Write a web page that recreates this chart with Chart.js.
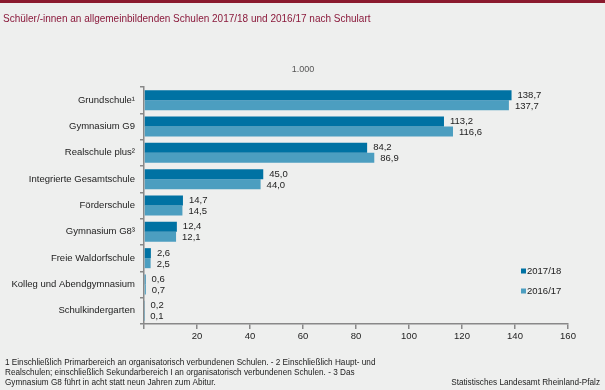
<!DOCTYPE html>
<html><head><meta charset="utf-8">
<script src="https://cdn.jsdelivr.net/npm/chart.js@4/dist/chart.umd.min.js"></script>
<style>
html,body{margin:0;padding:0;background:#eeefee;}
#wrap{position:relative;width:605px;height:390px;}
canvas{display:block;}
</style></head>
<body><div id="wrap"><canvas id="c" width="605" height="390"></canvas></div>
<script>
const categories = ["Grundschule\u00b9","Gymnasium G9","Realschule plus\u00b2","Integrierte Gesamtschule","F\u00f6rderschule","Gymnasium G8\u00b3","Freie Waldorfschule","Kolleg und Abendgymnasium","Schulkindergarten"];
const series2017 = [138.7,113.2,84.2,45.0,14.7,12.4,2.6,0.6,0.2];
const series2016 = [137.7,116.6,86.9,44.0,14.5,12.1,2.5,0.7,0.1];
const seriesNames = ["2017/18","2016/17"];
const xTicks = [0,20,40,60,80,100,120,140,160];
const titleText = "Sch\u00fcler/-innen an allgemeinbildenden Schulen 2017/18 und 2016/17 nach Schulart";
const unitText = "1.000";
const footLines = ["1 Einschlie\u00dflich Primarbereich an organisatorisch verbundenen Schulen. - 2 Einschlie\u00dflich Haupt- und","Realschulen; einschlie\u00dflich Sekundarbereich I an organisatorisch verbundenen Schulen. - 3 Das","Gymnasium G8 f\u00fchrt in acht statt neun Jahren zum Abitur."];
const sourceText = "Statistisches Landesamt Rheinland-Pfalz";

const colors = ["#0072a3","#4c9ec0"];
const FONT = "'Liberation Sans', Arial, sans-serif";
const fmt = v => v.toFixed(1).replace('.', ',');

const decor = {
  id:'decor',
  beforeDraw(chart){
    const ctx = chart.ctx;
    ctx.save();
    ctx.fillStyle = '#eeefee';
    ctx.fillRect(0,0,chart.width,chart.height);
    ctx.fillStyle = '#8b1a2e';
    ctx.fillRect(0,0,chart.width,3);
    ctx.restore();
  },
  afterDatasetsDraw(chart){
    const ctx = chart.ctx;
    ctx.save();
    ctx.font = '9.5px ' + FONT;
    ctx.fillStyle = '#222';
    ctx.textBaseline = 'middle';
    ctx.textAlign = 'left';
    chart.data.datasets.forEach((ds, di) => {
      const meta = chart.getDatasetMeta(di);
      meta.data.forEach((bar, i) => {
        ctx.fillText(fmt(ds.data[i]), bar.x + 6, bar.y + (di===0?0:1));
      });
    });
    // title
    ctx.font = '10px ' + FONT;
    ctx.fillStyle = '#8b1a3c';
    ctx.fillText(titleText, 3, 19);
    // unit
    ctx.font = '9px ' + FONT;
    ctx.fillStyle = '#555';
    ctx.textAlign = 'center';
    ctx.fillText(unitText, 303, 70);
    // legend
    ctx.textAlign = 'left';
    ctx.font = '9.5px ' + FONT;
    const ly = [271, 291];
    seriesNames.forEach((n, k) => {
      ctx.fillStyle = colors[k];
      ctx.fillRect(521, ly[k]-2.5, 5, 5);
      ctx.fillStyle = '#222';
      ctx.fillText(n, 527, ly[k]);
    });
    // footnotes
    ctx.font = '8.2px ' + FONT;
    ctx.fillStyle = '#222';
    footLines.forEach((l, k) => ctx.fillText(l, 5, 363 + k*10));
    ctx.textAlign = 'right';
    ctx.fillText(sourceText, 600, 383);
    ctx.restore();
  }
};

new Chart(document.getElementById('c'), {
  type: 'bar',
  data: {
    labels: categories,
    datasets: [
      {label: seriesNames[0], data: series2017, backgroundColor: colors[0], borderWidth: 0, barPercentage: 1.0, categoryPercentage: 0.76},
      {label: seriesNames[1], data: series2016, backgroundColor: colors[1], borderWidth: 0, barPercentage: 1.0, categoryPercentage: 0.76}
    ]
  },
  options: {
    indexAxis: 'y',
    responsive: false,
    animation: false,
    layout: {padding: {top: 87, right: 37, left: 0, bottom: 0}},
    plugins: {legend: {display: false}, tooltip: {enabled: false}, title: {display: false}},
    scales: {
      x: {
        min: 0, max: 160,
        afterBuildTicks(scale){ scale.ticks = xTicks.map(v => ({value: v})); },
        afterFit(scale){ scale.height = 66; },
        ticks: {font: {size: 9.5, family: FONT}, color: '#222', padding: 2, maxRotation: 0,
          callback: v => v === 0 ? '' : String(v)},
        grid: {drawOnChartArea: false, drawTicks: true, tickLength: 5, color: '#888', lineWidth: 1.5},
        border: {color: '#888', width: 1.5}
      },
      y: {
        afterFit(scale){ scale.width = 144; },
        ticks: {font: {size: 9.5, family: FONT}, color: '#222', padding: 5},
        grid: {drawOnChartArea: false, drawTicks: true, tickLength: 4, color: '#888', lineWidth: 1.5, offset: true},
        border: {color: '#888', width: 1.5}
      }
    }
  },
  plugins: [decor]
});
</script></body></html>
